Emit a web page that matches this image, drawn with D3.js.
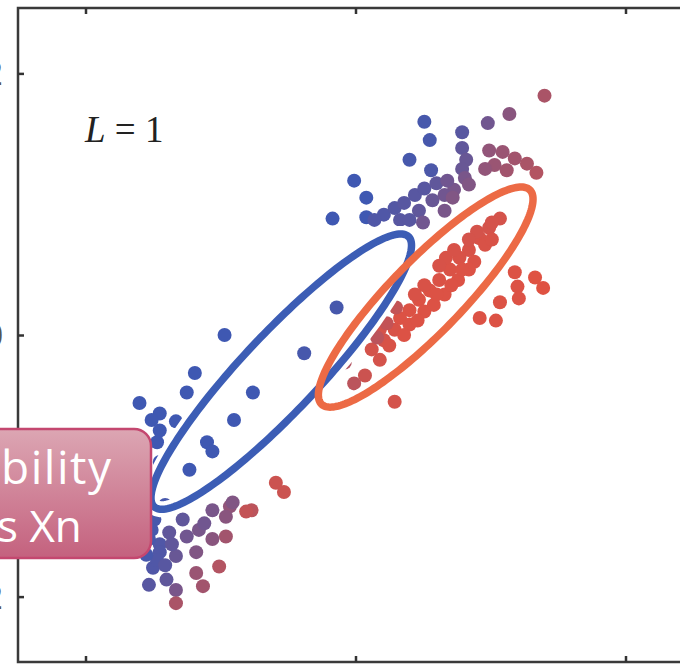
<!DOCTYPE html>
<html>
<head>
<meta charset="utf-8">
<script src="https://cdn.jsdelivr.net/npm/d3@7"></script>
<style>
  html, body { margin: 0; padding: 0; background: #fff; }
  svg { display: block; }
</style>
</head>
<body>
<svg id="chart" width="680" height="664"></svg>
<script>
// Standardised Old Faithful data after one EM step (L = 1).
// xs / ys: data coordinates; resp: responsibility of the red component.
const xs = [1.40,1.14,0.98,0.79,0.51,0.55,0.40,0.56,-0.01,0.08,0.08,-0.17,
  0.79,0.82,0.79,0.81,0.73,
  0.99,1.09,1.18,1.27,1.34,1.03,1.12,0.96,
  0.21,0.29,0.36,0.44,0.51,0.60,0.47,0.57,0.66,0.50,0.72,0.33,0.66,
  0.14,0.40,0.68,0.84,
  1.07,0.99,0.92,0.84,0.96,0.77,0.88,0.70,0.62,0.76,0.55,0.66,0.47,0.40,0.51,0.33,0.29,0.40,0.58,0.84,0.67,0.21,0.18,0.12,
  1.01,0.90,0.84,1.01,0.79,0.71,0.60,0.51,0.44,0.46,0.36,0.25,0.18,0.07,0.73,0.62,
  1.18,1.20,1.33,1.39,1.07,0.92,1.04,1.21,
  0.30,0.23,0.16,-0.01,0.29,-0.08,
  -0.14,-0.38,-0.97,-0.76,-1.19,-1.25,-1.60,-1.45,-1.51,-1.33,-0.90,-1.47,-1.10,-1.06,-1.23,-1.45,-1.45,
  -0.59,-0.53,-0.77,-0.93,-0.96,
  -1.38,-1.25,-1.16,-1.06,-0.96,-1.45,-1.45,-1.33,-1.18,-1.01,-1.50,-1.40,-1.18,-1.13,-1.33,-1.33,
  -0.91,-1.06,-1.28,-1.49,-1.41,-0.81,-1.12,-1.53,
  -1.51,-1.53,-1.47,-1.55,-1.41,-1.36];
const ys = [1.83,1.69,1.62,1.55,1.63,1.49,1.34,1.26,1.18,1.05,0.90,0.89,
  1.43,1.34,1.27,1.20,1.11,
  1.41,1.40,1.35,1.31,1.24,1.30,1.26,1.27,
  0.92,0.97,1.01,1.07,1.12,1.16,0.95,1.03,1.07,0.86,1.05,0.88,0.95,
  0.88,0.88,1.18,1.15,
  0.89,0.82,0.74,0.65,0.69,0.59,0.56,0.50,0.42,0.42,0.34,0.31,0.27,0.19,0.18,0.13,0.04,0.08,0.23,0.50,0.59,-0.04,0.04,-0.11,
  0.86,0.79,0.73,0.73,0.50,0.38,0.31,0.38,0.31,0.11,0.00,-0.08,-0.19,-0.31,0.65,0.53,
  0.48,0.37,0.44,0.36,0.25,0.13,0.11,0.28,
  0.21,0.09,-0.02,-0.37,-0.51,-0.21,
  0.21,-0.14,0.00,-0.44,-0.29,-0.44,-0.52,-0.60,-0.65,-0.66,-0.65,-0.82,-0.82,-0.89,-1.03,-0.73,-0.97,
  -1.13,-1.20,-1.34,-1.31,-1.39,
  -1.51,-1.54,-1.49,-1.56,-1.54,-1.60,-1.66,-1.69,-1.66,-1.77,-1.78,-1.87,-1.82,-1.92,-1.95,-2.05,
  -1.28,-1.34,-1.41,-1.41,-1.30,-1.35,-1.44,-1.91,
  -1.49,-1.56,-1.72,-1.68,-1.76,-1.60];
const resp = [0.65,0.45,0.30,0.15,0.05,0.05,0.05,0.08,0,0,0,0,
  0.20,0.25,0.25,0.35,0.35,
  0.50,0.55,0.60,0.65,0.70,0.55,0.60,0.50,
  0.10,0.12,0.15,0.15,0.15,0.20,0.20,0.25,0.30,0.30,0.40,0.15,0.35,
  0.10,0.15,0.30,0.40,
  0.90,0.90,0.92,0.92,0.93,0.93,0.94,0.94,0.94,0.95,0.95,0.95,0.95,0.95,0.95,0.95,0.93,0.95,0.95,0.95,0.93,0.90,0.90,0.90,
  0.90,0.90,0.90,0.93,0.95,0.95,0.95,0.93,0.93,0.95,0.95,0.93,0.90,0.85,0.92,0.92,
  0.95,0.95,0.97,0.97,0.95,0.95,0.95,0.95,
  0.80,0.80,0.75,0.75,0.90,0.70,
  0.05,0.05,0,0,0,0,0,0,0,0,0,0,0,0,0,0,0,
  0.85,0.85,0.75,0.50,0.45,
  0.20,0.30,0.35,0.45,0.60,0.10,0.10,0.25,0.40,0.70,0.10,0.20,0.55,0.60,0.35,0.65,
  0.40,0.35,0.20,0.05,0.05,0.80,0.30,0.15,
  0.05,0.05,0.10,0.05,0.15,0.20];

// Gaussian components: means and covariances
const compNames = ["blue", "red"];
const means = [[-0.55, -0.28], [0.52, 0.29]];
const covs = [[[0.931, 0.931], [0.931, 1.107]], [[0.632, 0.595], [0.595, 0.708]]];

const yTicks = [-2, 0, 2];
const xTicks = [-2, 0, 2];
const calloutLines = ["bility", "s Xn"];

const svg = d3.select("#chart");

const x = d3.scaleLinear().domain([-2.5, 2.5]).range([18, 693]);
const y = d3.scaleLinear().domain([-2.5, 2.5]).range([662, 8]);

const blue = "#3f58b2", red = "#e4523f";
const mix = d3.interpolateRgb(blue, red);
const ellipseColor = { blue: "#3c5db5", red: "#ec6a45" };

const plot = svg.append("g");

// points
const pts = xs.map((v, i) => ({ x: v, y: ys[i], r: resp[i] }));
plot.append("g").selectAll("circle")
  .data(pts)
  .join("circle")
  .attr("cx", d => x(d.x))
  .attr("cy", d => y(d.y))
  .attr("r", 7)
  .attr("fill", d => mix(d.r));

// one-standard-deviation contour of each component
function contour(mu, S) {
  const a = S[0][0], b = S[0][1], c = S[1][1];
  const tr = (a + c) / 2, det = Math.sqrt(((a - c) / 2) ** 2 + b * b);
  const l1 = tr + det, l2 = tr - det;
  const th = Math.atan2(l1 - a, b);
  const ct = Math.cos(th), st = Math.sin(th);
  const s1 = Math.sqrt(l1), s2 = Math.sqrt(l2);
  return d3.range(0, 200).map(k => {
    const t = k / 200 * 2 * Math.PI;
    const u = s1 * Math.cos(t), v = s2 * Math.sin(t);
    return [mu[0] + u * ct - v * st, mu[1] + u * st + v * ct];
  });
}
const line = d3.line().x(d => x(d[0])).y(d => y(d[1])).curve(d3.curveLinearClosed);
const ell = compNames.map((n, i) => ({ name: n, pts: contour(means[i], covs[i]) }));

plot.append("g").selectAll("path.halo")
  .data(ell).join("path")
  .attr("class", "halo")
  .attr("d", d => line(d.pts))
  .attr("fill", "none").attr("stroke", "#fff").attr("stroke-width", 16);
plot.append("g").selectAll("path.ring")
  .data(ell).join("path")
  .attr("class", "ring")
  .attr("d", d => line(d.pts))
  .attr("fill", "none").attr("stroke", d => ellipseColor[d.name]).attr("stroke-width", 7.5);

// frame and inward ticks
svg.append("rect")
  .attr("x", x(-2.5)).attr("y", y(2.5))
  .attr("width", x(2.5) - x(-2.5)).attr("height", y(-2.5) - y(2.5))
  .attr("fill", "none").attr("stroke", "#3a3a3a").attr("stroke-width", 2.5);

const axStyle = g => {
  g.select(".domain").remove();
  g.selectAll(".tick line").attr("stroke", "#333").attr("stroke-width", 2.5);
};
svg.append("g").attr("transform", `translate(0,${y(-2.5)})`)
  .call(d3.axisTop(x).tickValues(xTicks).tickSize(6).tickFormat(""))
  .call(axStyle);
svg.append("g").attr("transform", `translate(0,${y(2.5)})`)
  .call(d3.axisBottom(x).tickValues(xTicks).tickSize(6).tickFormat(""))
  .call(axStyle);
svg.append("g").attr("transform", `translate(${x(-2.5)},0)`)
  .call(d3.axisLeft(y).tickValues(yTicks).tickSizeInner(-6).tickSizeOuter(0).tickPadding(15)
    .tickFormat(d => d < 0 ? "\u2212" + Math.abs(d) : d))
  .call(axStyle)
  .call(g => g.selectAll("text")
    .attr("font-family", "'Liberation Serif', 'DejaVu Serif', serif")
    .attr("font-size", 36).attr("fill", "#555"));

// panel label
const lab = svg.append("text")
  .attr("x", 85).attr("y", 142)
  .attr("font-family", "'Liberation Serif', 'DejaVu Serif', serif")
  .attr("font-size", 37).attr("fill", "#222");
lab.append("tspan").attr("font-style", "italic").text("L");
lab.append("tspan").text(" = 1");

// callout box
const defs = svg.append("defs");
const grad = defs.append("linearGradient").attr("id", "calloutFill")
  .attr("x1", 0).attr("y1", 0).attr("x2", 0).attr("y2", 1);
grad.append("stop").attr("offset", 0).attr("stop-color", "#dca6b3");
grad.append("stop").attr("offset", 1).attr("stop-color", "#c4617e");

svg.append("rect")
  .attr("x", -30).attr("y", 429).attr("width", 181).attr("height", 129)
  .attr("rx", 17)
  .attr("fill", "url(#calloutFill)")
  .attr("stroke", "#c4476f").attr("stroke-width", 2.5);

const callout = svg.append("g")
  .attr("font-family", "'Open Sans', 'Noto Sans', sans-serif")
  .attr("fill", "#fff");
callout.append("text")
  .attr("x", 1).attr("y", 484).attr("font-size", 46)
  .attr("textLength", 110).attr("lengthAdjust", "spacing")
  .text(calloutLines[0]);
callout.append("text")
  .attr("x", -3).attr("y", 542).attr("font-size", 44)
  .text(calloutLines[1]);
</script>
</body>
</html>
